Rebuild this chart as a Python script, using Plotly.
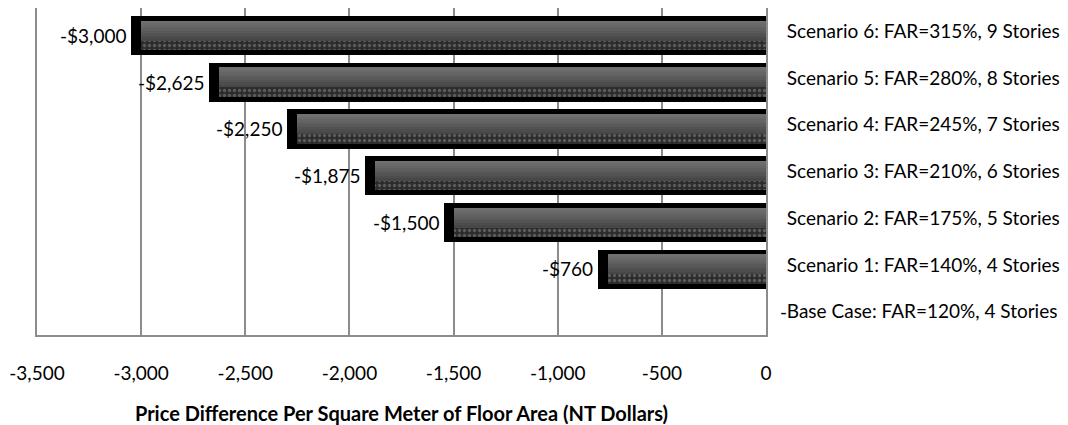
import plotly.graph_objects as go

# ---- data ----
categories = [
    "Base Case: FAR=120%, 4 Stories",
    "Scenario 1: FAR=140%, 4 Stories",
    "Scenario 2: FAR=175%, 5 Stories",
    "Scenario 3: FAR=210%, 6 Stories",
    "Scenario 4: FAR=245%, 7 Stories",
    "Scenario 5: FAR=280%, 8 Stories",
    "Scenario 6: FAR=315%, 9 Stories",
]
price_diff = [0, -760, -1500, -1875, -2250, -2625, -3000]
x_tick_vals = [-3500, -3000, -2500, -2000, -1500, -1000, -500, 0]
x_tick_text = ["-3,500", "-3,000", "-2,500", "-2,000", "-1,500", "-1,000", "-500", "0"]
x_title = "Price Difference Per Square Meter of Floor Area (NT Dollars)"


def money(v):
    # accounting style: zero shown as a dash
    if v == 0:
        return "-"
    return f"-${abs(v):,}" if v < 0 else f"${v:,}"


FONT = "Lato"
W, H = 1068, 425
M = dict(l=37, r=302, t=8, b=90)
row_px = (H - M["t"] - M["b"]) / len(categories)


def band(top_px, bottom_px):
    """Offset/width (category units) for a band given in pixels below the row centre."""
    return dict(offset=-bottom_px / row_px, width=(bottom_px - top_px) / row_px)


fig = go.Figure()

# black frame behind each bar (thick outline gives the dark border)
line_w = [0 if v == 0 else 20 for v in price_diff]
fig.add_trace(go.Bar(
    y=categories, x=price_diff, orientation="h",
    marker=dict(color="#000000", line=dict(color="#000000", width=line_w)),
    hoverinfo="skip", showlegend=False, **band(-5.3, 13.9),
))

# grey gradient body, drawn as thin stacked bands from light to dark
grad_colors = ["#707070", "#6a6a6a", "#656565", "#5f5f5f", "#595959",
               "#535353", "#4d4d4d", "#474747"]
top, bottom = -10.6, 9.4
step = (bottom - top) / len(grad_colors)
for i, c in enumerate(grad_colors):
    fig.add_trace(go.Bar(
        y=categories, x=price_diff, orientation="h",
        marker=dict(color=c, line=dict(width=0)),
        hoverinfo="skip", showlegend=False,
        **band(top + i * step, top + (i + 1) * step + 0.6),
    ))

# dotted textured strip along the lower edge
fig.add_trace(go.Bar(
    y=categories, x=price_diff, orientation="h",
    marker=dict(color="#2c2c2c", line=dict(width=0),
                pattern=dict(shape=".", bgcolor="#2c2c2c", fgcolor="#8a8a8a",
                             size=5, solidity=0.35)),
    hoverinfo="skip", showlegend=False, **band(9.4, 18.9),
))

# value labels at the outer end of each bar
for cat, v in zip(categories, price_diff):
    if v == 0:
        fig.add_annotation(x=v, y=cat, text=money(v), showarrow=False,
                           xanchor="left", xshift=12, yshift=0,
                           font=dict(family=FONT, size=19, color="#000"))
    else:
        fig.add_annotation(x=v, y=cat, text=money(v), showarrow=False,
                           xanchor="right", xshift=-13, yshift=-4,
                           font=dict(family=FONT, size=19, color="#000"))

fig.update_layout(
    width=W, height=H, margin=M,
    barmode="overlay", bargap=0,
    paper_bgcolor="#ffffff", plot_bgcolor="#ffffff",
    font=dict(family=FONT, size=19, color="#000000"),
    xaxis=dict(
        range=[-3500, 0], tickvals=x_tick_vals, ticktext=x_tick_text,
        showgrid=True, gridcolor="#8c8c8c", gridwidth=2,
        showline=True, linecolor="#8c8c8c", linewidth=2, mirror=False,
        zeroline=False, ticks="", ticklabelstandoff=20, automargin=False,
        tickfont=dict(family=FONT, size=19, color="#000"),
        title=dict(text=x_title, standoff=29,
                   font=dict(family=FONT, size=20, color="#000", weight="bold")),
    ),
    yaxis=dict(
        type="category", categoryorder="array", categoryarray=categories,
        side="right", ticks="", showgrid=False, zeroline=False,
        showline=True, linecolor="#8c8c8c", linewidth=2, mirror=True,
        ticklabelstandoff=15, automargin=False,
        tickfont=dict(family=FONT, size=19, color="#000"),
    ),
)

fig.write_html("out.html")
